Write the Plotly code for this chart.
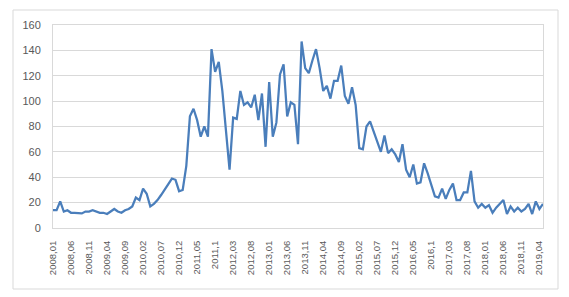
import plotly.graph_objects as go

# Monthly categories 2008.01 .. 2019.05 (October written as "YYYY,1" like the source)
months = []
for y in range(2008, 2020):
    for m in range(1, 13):
        if y == 2019 and m > 5:
            break
        months.append(f"{y},1" if m == 10 else f"{y},{m:02d}")

values = [
    14, 14, 21, 13, 14, 12, 12, 12, 11.5, 13, 13, 14, 13, 12, 12, 11, 13, 15, 13, 12,
    14, 15, 17, 24, 22, 31, 27, 17, 19, 22, 26, 30, 35, 39, 38, 29, 30, 49, 88, 94,
    85, 72, 80, 72, 141, 123, 131, 108, 77, 46, 87, 86, 108, 97, 99, 95, 105, 85, 106, 64,
    115, 72, 83, 121, 129, 88, 99, 97, 66, 147, 126, 122, 132, 141, 126, 108, 112, 102, 116, 116,
    128, 104, 98, 111, 97, 63, 62, 80, 84, 76, 68, 60, 73, 59, 62, 58, 52, 66, 46, 40,
    50, 35, 36, 51, 43, 34, 25, 24, 31, 23, 30, 35, 22, 22, 28, 28, 45, 21, 16, 19,
    16, 18, 12, 16, 19, 22, 11, 17, 13, 16, 13, 15, 19, 11, 21, 15, 19,
]

tick_labels = months[::5]
y_ticks = [0, 20, 40, 60, 80, 100, 120, 140, 160]

grid = "#d9d9d9"
txt = "#595959"
font = "Liberation Sans"

fig = go.Figure()
fig.add_trace(go.Scatter(
    x=months, y=values, mode="lines",
    line=dict(color="#4a7ebb", width=2.25),
    hoverinfo="skip",
))

fig.update_layout(
    width=569, height=297,
    margin=dict(l=53, r=26, t=25, b=69),
    paper_bgcolor="white", plot_bgcolor="white",
    showlegend=False,
    font=dict(family=font, size=11, color=txt),
    xaxis=dict(
        type="category",
        categoryorder="array", categoryarray=months,
        range=[0, len(months) - 1],
        tickmode="array", tickvals=tick_labels, ticktext=tick_labels,
        tickangle=-90,
        showgrid=False, showline=True, linecolor=grid, linewidth=1, mirror=True,
        ticks="", ticklabelstandoff=8,
        tickfont=dict(family=font, size=9.5, color=txt),
    ),
    yaxis=dict(
        range=[0, 160], tickmode="array", tickvals=y_ticks,
        showgrid=True, gridcolor=grid, gridwidth=1,
        zeroline=False,
        showline=True, linecolor=grid, linewidth=1, mirror=True,
        ticks="", ticklabelstandoff=9,
        tickfont=dict(family=font, size=11, color=txt),
    ),
    shapes=[dict(
        type="rect", xref="paper", yref="paper",
        x0=(13 - 53) / 490, x1=(558 - 53) / 490,
        y0=(228 - 289) / 203, y1=(228 - 10) / 203,
        line=dict(color=grid, width=1), fillcolor="rgba(0,0,0,0)",
        layer="above",
    )],
)

fig.write_html("out.html", post_script="document.body.style.margin='0';",
               config={"displayModeBar": False})
